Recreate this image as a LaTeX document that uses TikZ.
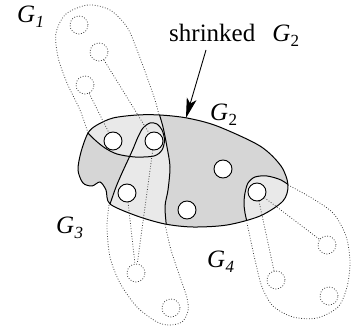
\documentclass[tikz,border=0pt]{standalone}
\usepackage{fontspec}
\setmainfont{Liberation Serif}
\usetikzlibrary{arrows.meta}
\definecolor{darkg}{gray}{0.84}
\definecolor{lightg}{gray}{0.915}
\newcommand\Gs[1]{\textit{G}\kern0.3pt\raisebox{-5pt}{\fontsize{17}{17}\selectfont #1}}
\tikzset{
  outline/.style={draw=black,line width=1pt},
  solidc/.style={circle,draw=black,line width=0.9pt,fill=white,minimum size=18pt,inner sep=0pt},
  dotc/.style={circle,draw=black!75,line width=0.8pt,dash pattern=on 0.8pt off 1.8pt,minimum size=18pt,inner sep=0pt},
  dotline/.style={draw=black!75,line width=0.8pt,dash pattern=on 0.8pt off 1.8pt},
  lbl/.style={anchor=base west,inner sep=0pt,font=\fontsize{25}{25}\selectfont}
}
\def\blobpath{plot[smooth cycle] coordinates {(88,133) (97,125) (113,118) (137,115) (160,115) (187,118) (217,126) (260,146) (281,166) (288,185) (283,201) (260,216) (227,225) (193,227) (165,224) (137,216) (110,204) (106,190) (100,182) (92,186) (83,183) (78,170) (81,152)}}
\begin{document}
\begin{tikzpicture}[x=1pt,y=-1pt]
\useasboundingbox (0,0) rectangle (351,331);
% fills
\fill[darkg] \blobpath;
\begin{scope}
\clip \blobpath;
\fill[lightg] (158,95) -- plot[smooth] coordinates {(158,110) (163,127) (167,147) (170,167) (168,190) (165,207) (167,232)} -- (100,240) -- plot[smooth] coordinates {(107,212) (110,204) (116,187) (122,173) (128,160) (130,156)} -- plot[smooth] coordinates {(130,156) (117,154) (105,148) (95,140) (84,129)} -- (60,110) -- (60,95) -- cycle;
\fill[lightg] plot[smooth] coordinates {(293,188) (281,180) (267,176) (255,177) (248,183) (245,193) (244,203) (245,213) (248,226)} -- (300,240) -- cycle;
% internal boundaries
\draw[outline] plot[smooth] coordinates {(158,110) (163,127) (167,147) (170,167) (168,190) (165,207) (167,232)};
\draw[outline] plot[smooth] coordinates {(84,129) (95,140) (105,148) (117,154) (135,157) (154,156) (162,150) (164.5,140) (162,130) (157,124) (150,123) (143,128) (138,137) (133,149) (128,160) (122,173) (116,187) (110,204) (107,212)};
\draw[outline] plot[smooth] coordinates {(293,188) (281,180) (267,176) (255,177) (248,183) (245,193) (244,203) (245,213) (248,226)};
\end{scope}
\draw[outline] \blobpath;
% solid circles
\node[solidc] (c1) at (113,141) {};
\node[solidc] (c2) at (154,141) {};
\node[solidc] (c3) at (127,193) {};
\node[solidc] (c4) at (187,210) {};
\node[solidc] (c5) at (223,169) {};
\node[solidc] (c6) at (257,192) {};
% dotted circles
\node[dotc] (d1) at (79,25) {};
\node[dotc] (d2) at (99,52) {};
\node[dotc] (d3) at (85,85) {};
\node[dotc] (d4) at (136,273) {};
\node[dotc] (d5) at (171,308) {};
\node[dotc] (d6) at (327,245) {};
\node[dotc] (d7) at (276,280) {};
\node[dotc] (d8) at (329,296) {};
% dotted connectors
\draw[dotline] (d2) -- (c2);
\draw[dotline] (d3) -- (c1);
\draw[dotline] (c3) -- (d4);
\draw[dotline] (c2) -- (d4);
\draw[dotline] (c6) -- (d6);
\draw[dotline] (c6) -- (d7);
% dotted contours
\draw[dotline] plot[smooth] coordinates {(88,133) (80,110) (67,83) (58,57) (56,33) (66,14) (88,5) (110,10) (127,27) (137,50) (147,77) (155,100) (159,115)};
\draw[dotline] plot[smooth] coordinates {(109,205) (107,227) (110,257) (120,283) (137,307) (157,322) (170,325) (182,322) (188,311) (187,298) (180,277) (171,250) (165,224)};
\draw[dotline] plot[smooth] coordinates {(288,185) (310,197) (333,213) (346,236) (350,262) (347,287) (338,307) (317,318) (293,317) (273,306) (262,287) (255,260) (250,237) (247,223)};
% labels
\node[lbl] (l1) at (17,23) {\Gs{\itshape 1}};
\node[lbl] (l3) at (56,234) {\Gs{\itshape 3}};
\node[lbl] (l4) at (207,268) {\Gs{\itshape 4}};
\node[lbl] (l2) at (210,121) {\Gs{2}};
\node[lbl] (shr) at (169,42) {shrinked\hspace{17pt}\Gs{2}};
% arrow
\coordinate (astart) at (206,50);
\coordinate (atip) at (186,118);
\draw[line width=0.9pt,-{Stealth[length=20pt,width=10pt,inset=5pt]}] (astart) -- (atip);
\end{tikzpicture}
\end{document}
